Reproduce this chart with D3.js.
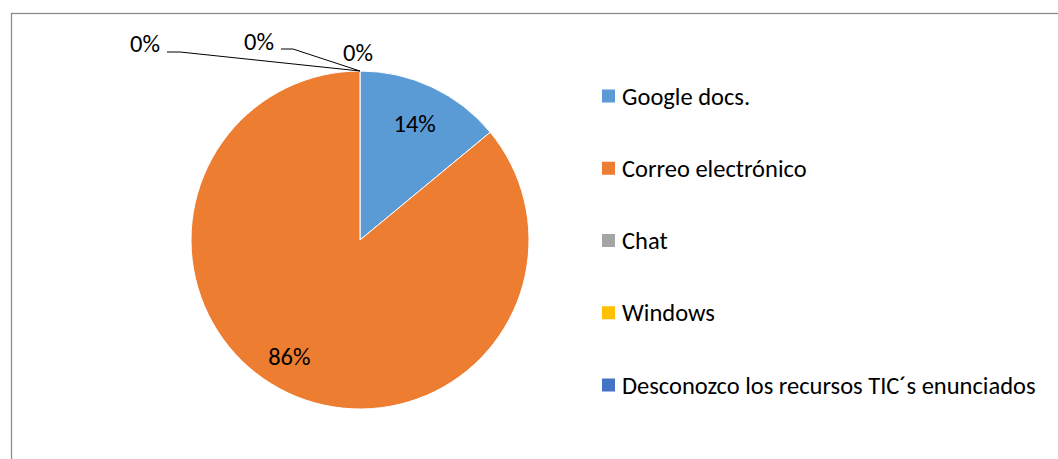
<!DOCTYPE html>
<html>
<head>
<meta charset="utf-8">
<script src="https://cdn.jsdelivr.net/npm/d3@7"></script>
<style>
  body { margin: 0; background: #fff; }
  svg text { font-family: Carlito, Calibri, Lato, sans-serif; fill: #000; }
</style>
</head>
<body>
<div id="chart-container"></div>
<script>
// chart data
const categories = ["Google docs.", "Correo electrónico", "Chat", "Windows", "Desconozco los recursos TIC´s enunciados"];
const values = [14, 86, 0, 0, 0];
const colors = ["#5b9bd5", "#ed7d31", "#a5a5a5", "#ffc000", "#4472c4"];
const pctLabels = ["14%", "86%", "0%", "0%", "0%"];

document.addEventListener('DOMContentLoaded', function(){
  drawPie();
});

function drawPie(){
  let svgWidth = 1058;
  let svgHeight = 459;
  let cx = 360, cy = 240, radius = 169;
  let fontSize = 24.5;

  let svg = d3.select('#chart-container')
    .append('svg')
    .attr('width', svgWidth)
    .attr('height', svgHeight);

  // chart area border (runs off right and bottom edge)
  svg.append("rect")
    .attr("x", 11.5)
    .attr("y", 13.5)
    .attr("width", svgWidth + 20)
    .attr("height", svgHeight + 20)
    .attr("fill", "none")
    .attr("stroke", "#8c8c8c")
    .attr("stroke-width", 1.3);

  let data = categories.map((c, i) => ({name: c, value: values[i], color: colors[i], label: pctLabels[i]}));

  let pie = d3.pie().sort(null).value(d => d.value);
  let arcs = pie(data);

  let arc = d3.arc().innerRadius(0).outerRadius(radius);
  let labelArc = d3.arc().innerRadius(radius * 0.76).outerRadius(radius * 0.76);

  let g = svg.append("g").attr("transform", `translate(${cx},${cy})`);

  g.selectAll("path")
    .data(arcs)
    .enter()
    .append("path")
    .attr("d", arc)
    .attr("fill", d => d.data.color)
    .attr("stroke", "#fff")
    .attr("stroke-width", d => d.value > 0 ? 1 : 0);

  // label tweaks, Excel best-fit placement
  let labelShift = [[0, 0], [-16, 0]];
  // zero slices sit at the top; labels pushed out with leader lines
  let zeroOffsets = [[-215, -28], [-101, -30], [-2, -19]];
  let zeroLeaders = [[[-193, -19], [-180, -19]], [[-79, -22], [-67, -22]], null];

  let zi = 0;
  arcs.forEach((d, i) => {
    if (d.value > 0) {
      let c = labelArc.centroid(d);
      g.append("text")
        .attr("x", c[0] + labelShift[i][0])
        .attr("y", c[1] + labelShift[i][1])
        .attr("dy", "0.35em")
        .attr("text-anchor", "middle")
        .style("font-size", fontSize + "px")
        .text(d.data.label);
    } else {
      // anchor at the rim where the zero-width slice sits
      let ax = radius * Math.sin(d.startAngle);
      let ay = -radius * Math.cos(d.startAngle);
      let off = zeroOffsets[zi];
      let lead = zeroLeaders[zi];
      if (lead) {
        g.append("polyline")
          .attr("points", [[ax + lead[0][0], ay + lead[0][1]], [ax + lead[1][0], ay + lead[1][1]], [ax, ay]].map(p => p.join(",")).join(" "))
          .attr("fill", "none")
          .attr("stroke", "#000")
          .attr("stroke-width", 1);
      }
      g.append("text")
        .attr("x", ax + off[0])
        .attr("y", ay + off[1])
        .attr("dy", "0.35em")
        .attr("text-anchor", "middle")
        .style("font-size", fontSize + "px")
        .text(d.data.label);
      zi++;
    }
  });

  // legend
  let legendY = d3.scalePoint()
    .domain(categories)
    .range([96, 385]);

  let legend = svg.selectAll(".legend")
    .data(data)
    .enter()
    .append("g")
    .attr("class", "legend")
    .attr("transform", d => `translate(602, ${legendY(d.name)})`);

  legend.append("rect")
    .attr("x", 0)
    .attr("y", -6.5)
    .attr("width", 13)
    .attr("height", 13)
    .attr("fill", d => d.color);

  legend.append("text")
    .attr("x", 20)
    .attr("y", 0)
    .attr("dy", "0.35em")
    .style("font-size", fontSize + "px")
    .text(d => d.name);
}
</script>
</body>
</html>
